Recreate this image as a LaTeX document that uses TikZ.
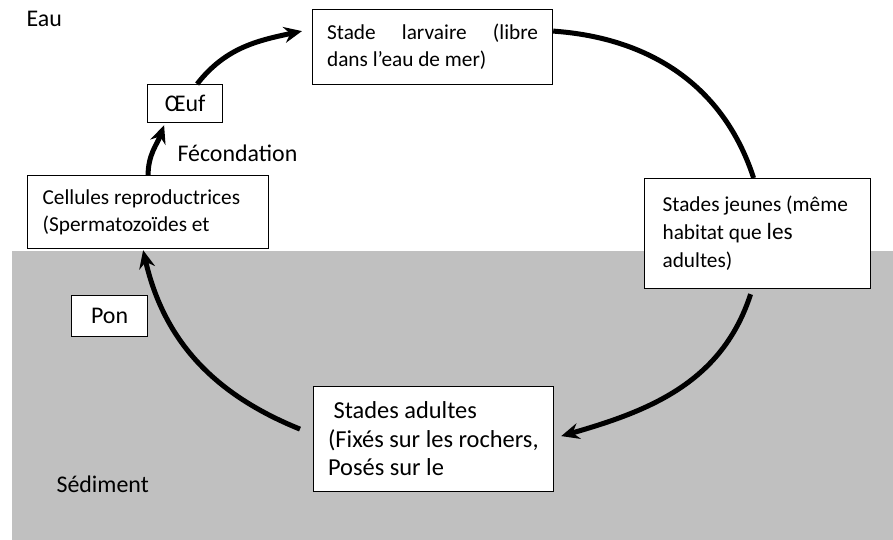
\documentclass[tikz,border=0pt]{standalone}
\usepackage{fontspec}
\setmainfont{Carlito}
\usetikzlibrary{arrows.meta}
\definecolor{sediment}{RGB}{192,192,192}

\begin{document}
\begin{tikzpicture}[x=1pt, y=1pt, font=\fontsize{23.9}{28.5}\selectfont]
  \tikzset{stadebox/.style={draw, line width=1.2pt, fill=white, inner sep=0pt, anchor=north west, align=left,
                            execute at begin node={\spaceskip=0pt\xspaceskip=0pt\relax}},
           petit/.style={font=\fontsize{21.3}{27}\selectfont},
           fleche/.style={line width=5pt, -{Stealth[length=18pt,width=16pt,inset=6pt]}},
           trait/.style={line width=5pt}}
  \useasboundingbox (0,0) rectangle (893,-540);
  \fill[sediment] (12,-251) rectangle (893,-540);
  \node[anchor=base west] (eau) at (23,-27) {Eau};
  \node[anchor=base west] (fecondation) at (174,-162) {Fécondation};
  \node[anchor=base west] (sediment) at (53,-492) {Sédiment};
  \node[stadebox, petit, minimum width=240pt, minimum height=75pt, text width=211pt] (larve) at (312,-9)
       {\makebox[211pt][s]{Stade larvaire (libre}\\dans l’eau de mer)};
  \node[stadebox, align=center, minimum width=75pt, minimum height=38pt] (oeuf) at (147,-84) {Œuf};
  \node[stadebox, petit, minimum width=241pt, minimum height=73pt, text width=211pt] (cellules) at (27,-175)
       {Cellules reproductrices\\(Spermatozoïdes et};
  \node[stadebox, font=\fontsize{21.3}{28}\selectfont, minimum width=226pt, minimum height=110pt, text width=190pt] (jeunes) at (644,-178)
       {Stades jeunes (même\\habitat que {\fontsize{23.3}{28}\selectfont les}\\adultes)};
  \node[stadebox, align=center, minimum width=76pt, minimum height=41pt] (ponte) at (71,-295) {Pon};
  \node[stadebox, font=\fontsize{24.4}{28.5}\selectfont, minimum width=240pt, minimum height=105pt, text width=211pt] (adultes) at (313,-386)
       {\hspace{5.5pt}Stades adultes\\(Fixés sur les rochers,\\Posés sur le};
  \draw[fleche] ([xshift=12pt]oeuf.north) to[out=52,in=192] ([xshift=-10pt,yshift=16pt]larve.west);
  \draw[fleche] (cellules.north) to[out=90,in=250] ([xshift=-21pt,yshift=-2pt]oeuf.south);
  \draw[trait] ([yshift=16pt]larve.east) to[out=-4,in=108] ([xshift=-4pt]jeunes.north);
  \draw[fleche] ([xshift=-7pt,yshift=-5pt]jeunes.south) to[out=-108,in=16] ([xshift=7pt,yshift=3pt]adultes.east);
  \draw[fleche] ([xshift=-13pt,yshift=10pt]adultes.west) to[out=158,in=-77] ([xshift=-5pt,yshift=-1pt]cellules.south);
\end{tikzpicture}
\end{document}
